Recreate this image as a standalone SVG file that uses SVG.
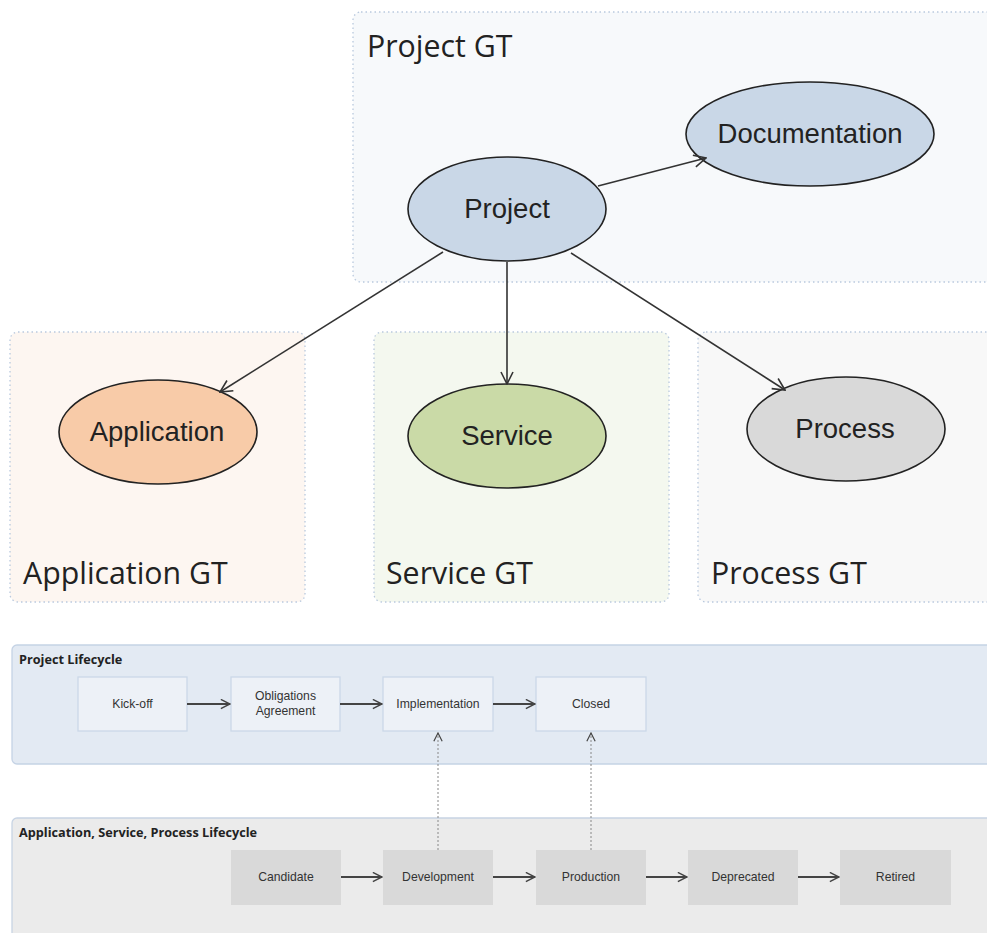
<svg xmlns="http://www.w3.org/2000/svg" width="987" height="933" viewBox="0 0 987 933">
<defs>
<style>
.gt{stroke:#b9c9de;stroke-width:1.3;stroke-dasharray:1.5 3}
.gtl{font-family:"Open Sans","Liberation Sans",sans-serif;font-size:30.3px;fill:#222}
.ell{stroke:#222;stroke-width:1.6}
.elt{font-family:"Liberation Sans",Arial,sans-serif;font-size:27.5px;fill:#222;text-anchor:middle}
.edge{stroke:#333;stroke-width:1.6;fill:none}
.lc{font-family:"Open Sans","Liberation Sans",sans-serif;font-size:12.7px;font-weight:bold;fill:#222}
.pb{fill:#edf1f7;stroke:#cbd8e8;stroke-width:1.3}
.ab{fill:#d9d9d9}
.bt{font-family:"Liberation Sans",Arial,sans-serif;font-size:12.2px;fill:#333;text-anchor:middle}
.la{stroke:#444;stroke-width:1.8;fill:none}
.dot{stroke:#888;stroke-width:1;stroke-dasharray:2 2;fill:none}
</style>
<marker id="vee" viewBox="0 0 14 14" refX="13" refY="7" markerWidth="14" markerHeight="14" markerUnits="userSpaceOnUse" orient="auto">
<path d="M1,1 L13,7 L1,13" fill="none" stroke="#333" stroke-width="1.6"/>
</marker>
<marker id="vees" viewBox="0 0 12 12" refX="11" refY="6" markerWidth="11" markerHeight="11" markerUnits="userSpaceOnUse" orient="auto">
<path d="M1,1 L11,6 L1,11" fill="none" stroke="#444" stroke-width="1.6"/>
</marker>
<marker id="veed" viewBox="0 0 12 12" refX="11" refY="6" markerWidth="10" markerHeight="10" markerUnits="userSpaceOnUse" orient="auto">
<path d="M1,1 L11,6 L1,11" fill="none" stroke="#444" stroke-width="1.4"/>
</marker>
</defs>
<rect width="987" height="933" fill="#ffffff"/>

<g id="group-project-gt">
<rect class="gt" x="353" y="12" width="650" height="270" rx="8" fill="#f7f9fb"/>
<text class="gtl" x="367" y="57">Project GT</text>
</g>
<g id="group-application-gt">
<rect class="gt" x="10" y="332" width="295" height="270" rx="8" fill="#fdf6f1"/>
<text class="gtl" x="23" y="584">Application GT</text>
</g>
<g id="group-service-gt">
<rect class="gt" x="374" y="332" width="295" height="270" rx="8" fill="#f4f8ef"/>
<text class="gtl" x="386" y="584">Service GT</text>
</g>
<g id="group-process-gt">
<rect class="gt" x="698" y="332" width="310" height="270" rx="8" fill="#f8f8f8"/>
<text class="gtl" x="711" y="584">Process GT</text>
</g>

<g id="node-project">
<ellipse class="ell" cx="507" cy="209" rx="99" ry="52" fill="#c9d7e7"/>
<text class="elt" x="507" y="218">Project</text>
</g>
<g id="node-documentation">
<ellipse class="ell" cx="810" cy="134" rx="124" ry="52" fill="#c9d7e7"/>
<text class="elt" x="810" y="143">Documentation</text>
</g>
<g id="node-application">
<ellipse class="ell" cx="158" cy="432" rx="99" ry="52" fill="#f8cba8"/>
<text class="elt" x="157" y="441">Application</text>
</g>
<g id="node-service">
<ellipse class="ell" cx="507" cy="436" rx="99" ry="52" fill="#cadaa7"/>
<text class="elt" x="507" y="445">Service</text>
</g>
<g id="node-process">
<ellipse class="ell" cx="846" cy="429" rx="99" ry="52" fill="#d9d9d9"/>
<text class="elt" x="845" y="438">Process</text>
</g>

<g id="lane-project-lifecycle">
<rect x="12" y="645" width="990" height="119" rx="5" fill="#e3eaf3" stroke="#c5d3e5" stroke-width="1.3"/>
<text class="lc" x="19" y="664">Project Lifecycle</text>
</g>
<g id="node-kickoff">
<rect class="pb" x="78" y="677" width="109" height="54"/>
<text class="bt" x="132.5" y="708">Kick-off</text>
</g>
<g id="node-obligations">
<rect class="pb" x="231" y="677" width="109" height="54"/>
<text class="bt" x="285.5" y="700">Obligations</text>
<text class="bt" x="285.5" y="715">Agreement</text>
</g>
<g id="node-implementation">
<rect class="pb" x="383" y="677" width="110" height="54"/>
<text class="bt" x="438" y="708">Implementation</text>
</g>
<g id="node-closed">
<rect class="pb" x="536" y="677" width="110" height="54"/>
<text class="bt" x="591" y="708">Closed</text>
</g>

<g id="lane-asp-lifecycle">
<rect x="12" y="818" width="990" height="130" rx="5" fill="#ebebeb" stroke="#c8d4e4" stroke-width="1.3"/>
<text class="lc" x="19" y="837">Application, Service, Process Lifecycle</text>
</g>
<g id="node-candidate">
<rect class="ab" x="231" y="850" width="110" height="55"/>
<text class="bt" x="286" y="881">Candidate</text>
</g>
<g id="node-development">
<rect class="ab" x="383" y="850" width="110" height="55"/>
<text class="bt" x="438" y="881">Development</text>
</g>
<g id="node-production">
<rect class="ab" x="536" y="850" width="110" height="55"/>
<text class="bt" x="591" y="881">Production</text>
</g>
<g id="node-deprecated">
<rect class="ab" x="688" y="850" width="110" height="55"/>
<text class="bt" x="743" y="881">Deprecated</text>
</g>
<g id="node-retired">
<rect class="ab" x="840" y="850" width="111" height="55"/>
<text class="bt" x="895.5" y="881">Retired</text>
</g>

<g id="connectors">
<line class="edge" x1="598" y1="186" x2="706" y2="158" marker-end="url(#vee)"/>
<line class="edge" x1="443" y1="252" x2="220" y2="392" marker-end="url(#vee)"/>
<line class="edge" x1="507" y1="262" x2="507" y2="384" marker-end="url(#vee)"/>
<line class="edge" x1="571" y1="253" x2="785" y2="390" marker-end="url(#vee)"/>
<line class="la" x1="187" y1="704" x2="230" y2="704" marker-end="url(#vees)"/>
<line class="la" x1="340" y1="704" x2="382" y2="704" marker-end="url(#vees)"/>
<line class="la" x1="493" y1="704" x2="535" y2="704" marker-end="url(#vees)"/>
<line class="la" x1="341" y1="877" x2="382" y2="877" marker-end="url(#vees)"/>
<line class="la" x1="493" y1="877" x2="535" y2="877" marker-end="url(#vees)"/>
<line class="la" x1="646" y1="877" x2="687" y2="877" marker-end="url(#vees)"/>
<line class="la" x1="798" y1="877" x2="839" y2="877" marker-end="url(#vees)"/>
<line class="dot" x1="438" y1="850" x2="438" y2="733" marker-end="url(#veed)"/>
<line class="dot" x1="591" y1="850" x2="591" y2="733" marker-end="url(#veed)"/>
</g>
</svg>
